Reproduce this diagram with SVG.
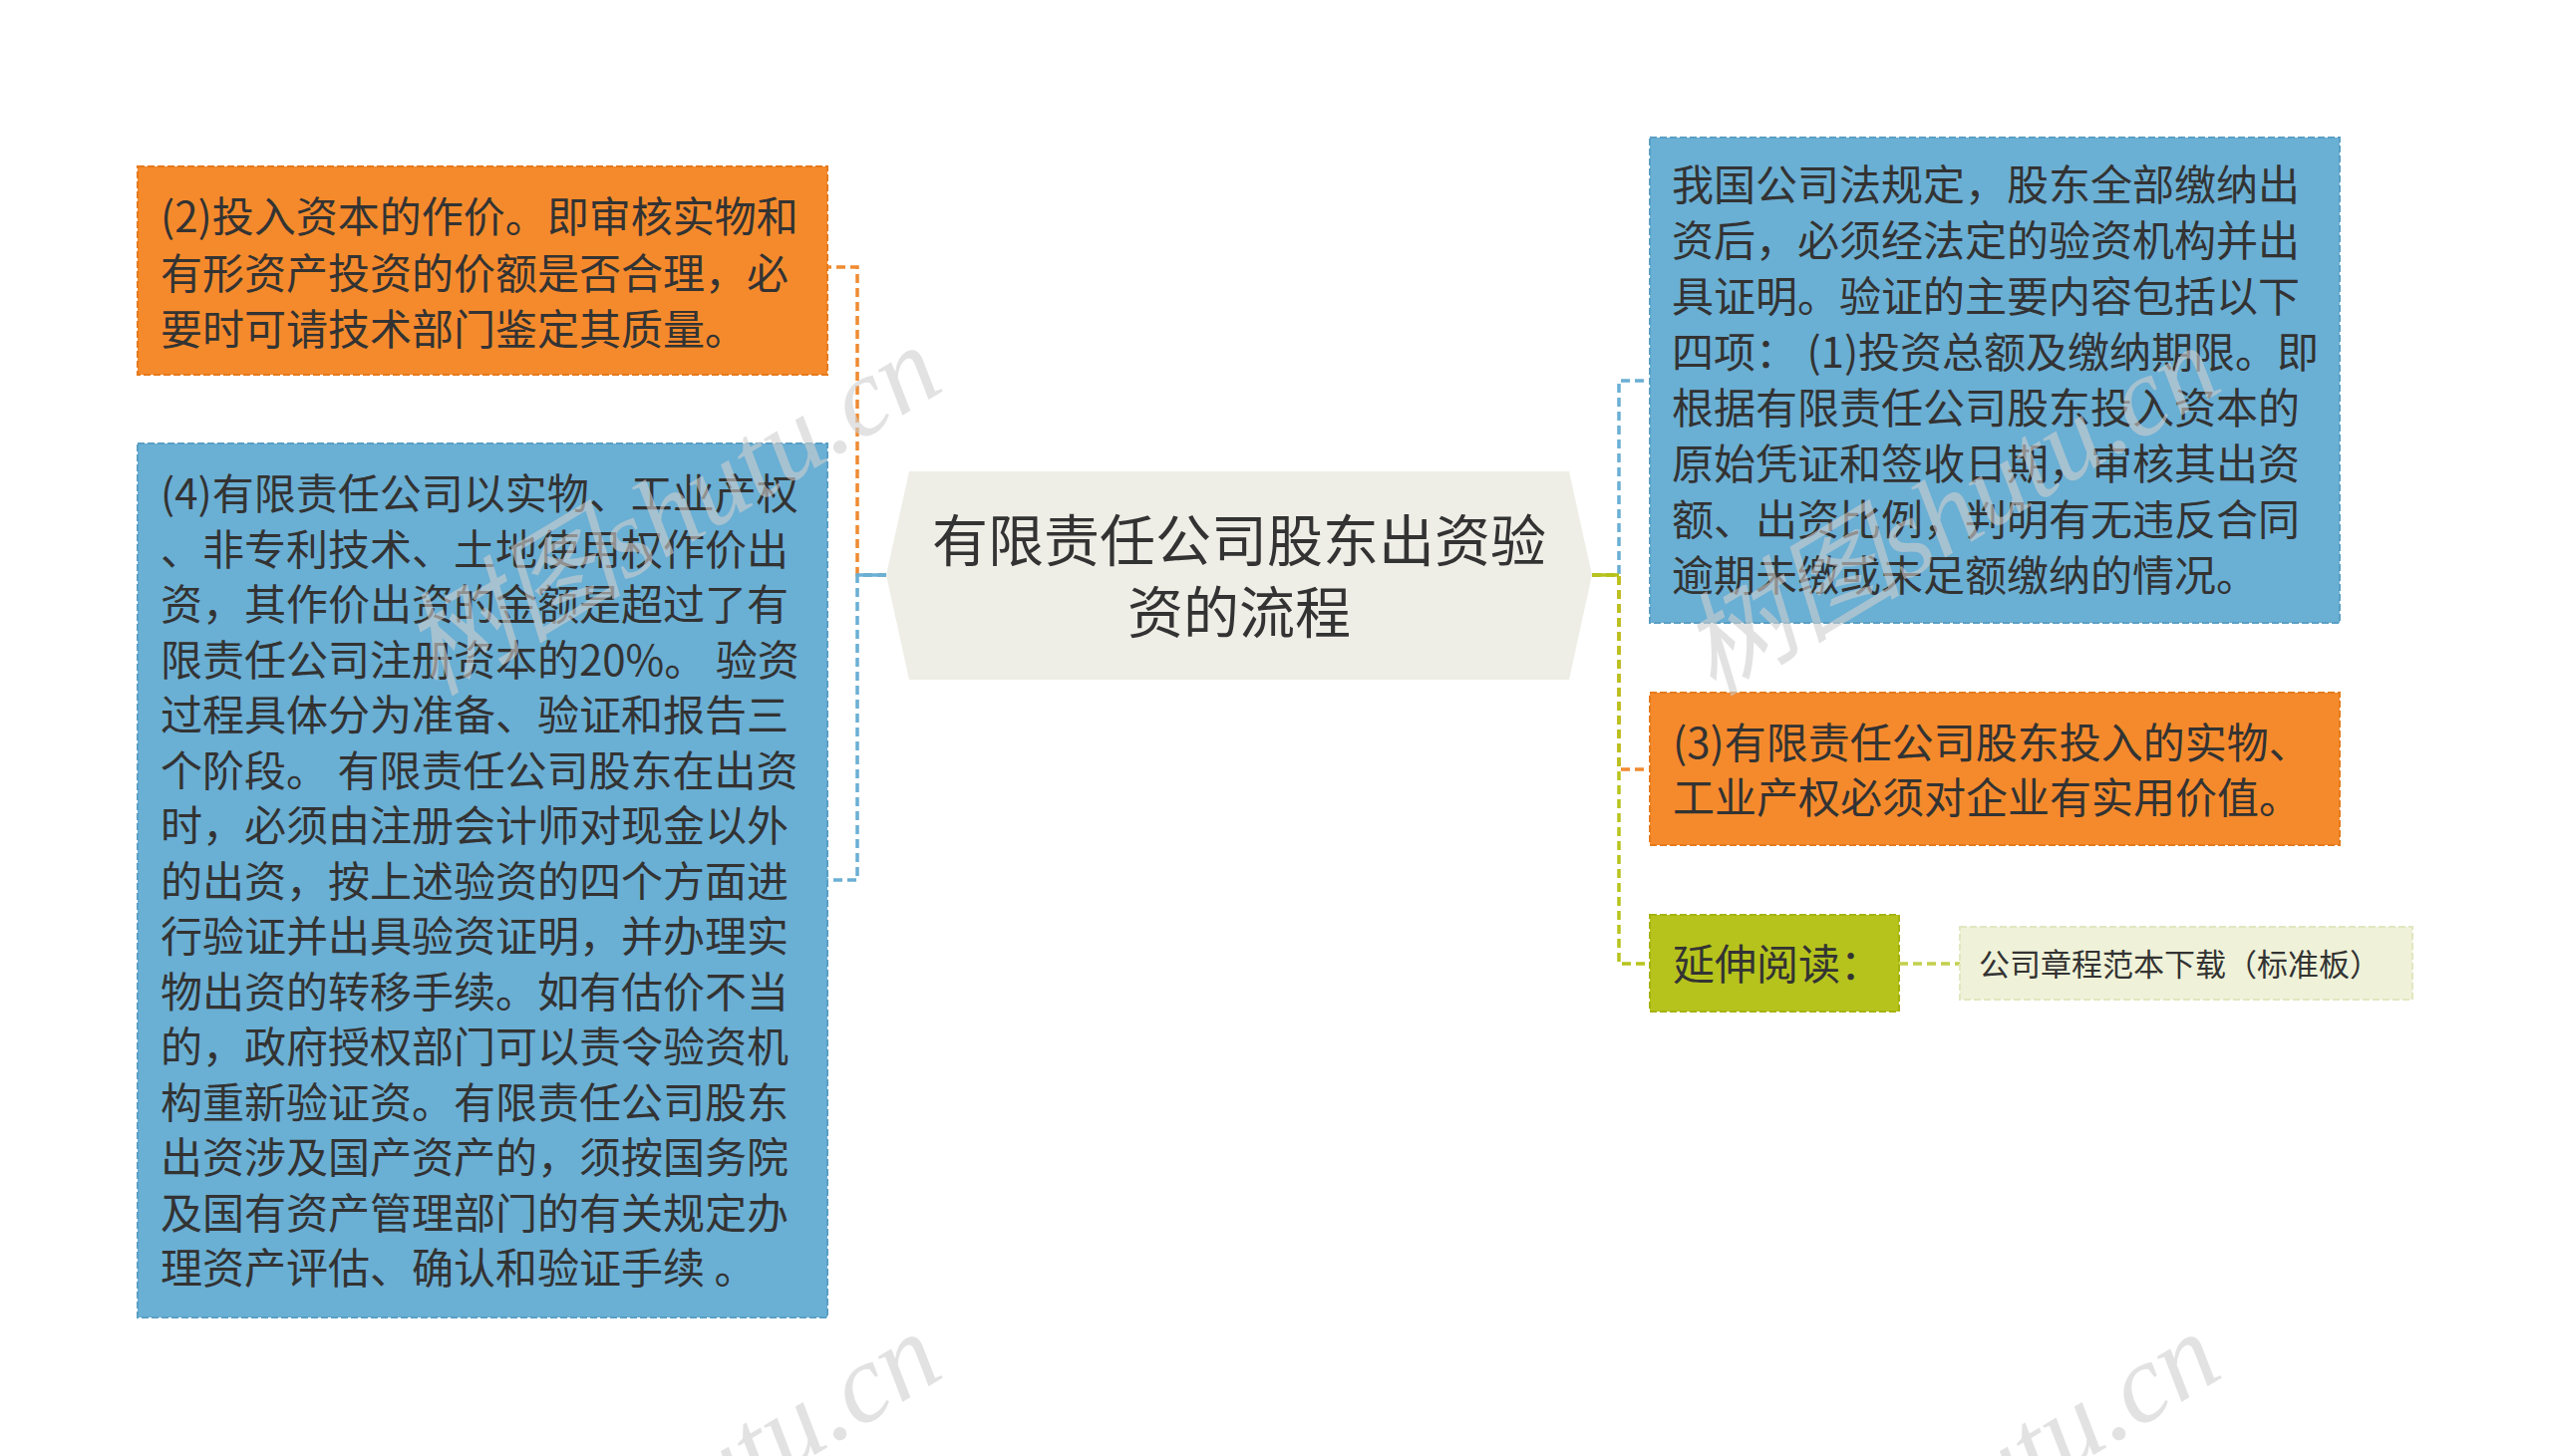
<svg xmlns="http://www.w3.org/2000/svg" width="2560" height="1461" viewBox="0 0 2560 1461">
<style>
.t{font-family:"Noto Sans CJK SC","Noto Sans",sans-serif;fill:#333;font-size:42px}
.title{font-size:56px}
.link{font-size:31px}
.box{stroke-width:2;stroke-dasharray:7 3}
.or{fill:#F58A2C;stroke:#E57A1C}
.bl{fill:#6AAFD4;stroke:#5A9FC4}
.gr{fill:#B6C31C;stroke:#A6B30C}
.lk{fill:#EFF2D8;stroke:#E2E6C0}
.c{fill:none;stroke-width:3.5;stroke-dasharray:9 5}
.cs{fill:none;stroke-width:3.5}
.wm{font-family:"Liberation Serif","Noto Sans CJK SC",serif;font-style:italic;font-size:112px;fill:#cfcfcf;opacity:.6}
</style>
<rect width="2560" height="1461" fill="#fff"/>
<g id="connectors">
<path class="c" stroke="#F08A30" d="M889 577H860V268H830"/>
<path class="c" stroke="#6AAFD4" d="M889 577H860V883H830"/>
<path class="cs" stroke="#6AAFD4" d="M889 577H860"/>
<path class="c" stroke="#6AAFD4" d="M1597 577H1624V382H1655"/>
<path class="c" stroke="#F08A30" d="M1597 577H1624V772H1655"/>
<path class="c" stroke="#B6C31C" d="M1597 577H1624V967H1655"/>
<path class="cs" stroke="#B6C31C" d="M1597 577H1624"/>
<path class="c" stroke="#C2CF4E" d="M1905 967H1966"/>
</g>
<g id="center">
<polygon points="912,473 1574,473 1597,577 1574,682 912,682 889,577" fill="#EEEEE7"/>
<text class="t title" text-anchor="middle"><tspan x="1243" y="563">有限责任公司股东出资验</tspan><tspan x="1243" y="635">资的流程</tspan></text>
</g>
<g id="node-left-2">
<rect class="box or" x="138" y="167" width="692" height="209"/>
<text class="t"><tspan x="161" y="233">(2)投入资本的作价。即审核实物和</tspan><tspan x="161" y="289.5">有形资产投资的价额是否合理，必</tspan><tspan x="161" y="346">要时可请技术部门鉴定其质量。</tspan></text>
</g>
<g id="node-left-4">
<rect class="box bl" x="138" y="445" width="692" height="877"/>
<text class="t"><tspan x="161" y="511">(4)有限责任公司以实物、工业产权</tspan><tspan x="161" y="566.5">、非专利技术、土地使用权作价出</tspan><tspan x="161" y="622">资，其作价出资的金额是超过了有</tspan><tspan x="161" y="677.5">限责任公司注册资本的20%。 验资</tspan><tspan x="161" y="733">过程具体分为准备、验证和报告三</tspan><tspan x="161" y="788.5">个阶段。 有限责任公司股东在出资</tspan><tspan x="161" y="844">时，必须由注册会计师对现金以外</tspan><tspan x="161" y="899.5">的出资，按上述验资的四个方面进</tspan><tspan x="161" y="955">行验证并出具验资证明，并办理实</tspan><tspan x="161" y="1010.5">物出资的转移手续。如有估价不当</tspan><tspan x="161" y="1066">的，政府授权部门可以责令验资机</tspan><tspan x="161" y="1121.5">构重新验证资。有限责任公司股东</tspan><tspan x="161" y="1177">出资涉及国产资产的，须按国务院</tspan><tspan x="161" y="1232.5">及国有资产管理部门的有关规定办</tspan><tspan x="161" y="1288">理资产评估、确认和验证手续 。</tspan></text>
</g>
<g id="node-right-1">
<rect class="box bl" x="1655" y="138" width="692" height="487"/>
<text class="t"><tspan x="1677" y="201">我国公司法规定，股东全部缴纳出</tspan><tspan x="1677" y="257">资后，必须经法定的验资机构并出</tspan><tspan x="1677" y="313">具证明。验证的主要内容包括以下</tspan><tspan x="1677" y="369">四项： (1)投资总额及缴纳期限。即</tspan><tspan x="1677" y="425">根据有限责任公司股东投入资本的</tspan><tspan x="1677" y="481">原始凭证和签收日期，审核其出资</tspan><tspan x="1677" y="537">额、出资比例，判明有无违反合同</tspan><tspan x="1677" y="593">逾期未缴或未足额缴纳的情况。</tspan></text>
</g>
<g id="node-right-3">
<rect class="box or" x="1655" y="695" width="692" height="153"/>
<text class="t"><tspan x="1678" y="761">(3)有限责任公司股东投入的实物、</tspan><tspan x="1678" y="816">工业产权必须对企业有实用价值。</tspan></text>
</g>
<g id="node-more">
<rect class="box gr" x="1655" y="918" width="250" height="97"/>
<text class="t" x="1678" y="983">延伸阅读：</text>
</g>
<g id="node-link">
<rect class="box lk" x="1966" y="930" width="454" height="73"/>
<text class="t link" x="1985" y="979">公司章程范本下载（标准板）</text>
</g>
<g id="watermarks">
<text class="wm" text-anchor="end" transform="translate(950 390) rotate(-31)">树图shutu.cn</text>
<text class="wm" text-anchor="end" transform="translate(2233 390) rotate(-31)">树图shutu.cn</text>
<text class="wm" text-anchor="end" transform="translate(950 1380) rotate(-31)">树图shutu.cn</text>
<text class="wm" text-anchor="end" transform="translate(2233 1380) rotate(-31)">树图shutu.cn</text>
</g>
</svg>
